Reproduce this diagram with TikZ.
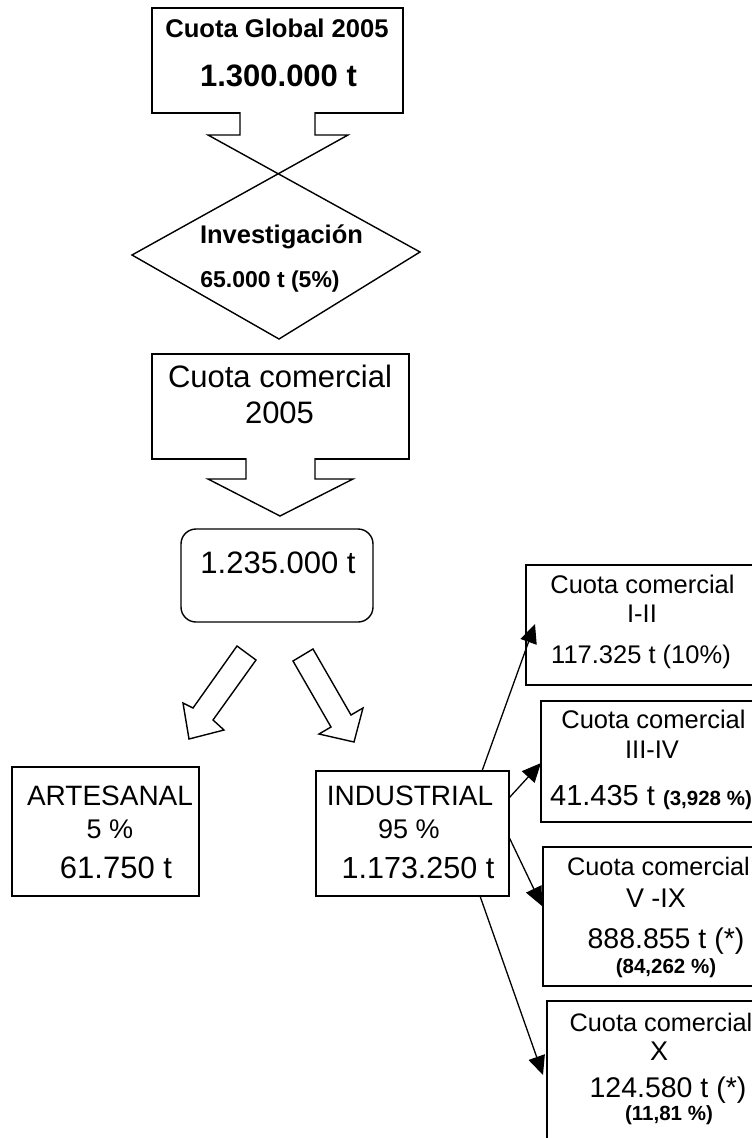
\documentclass[tikz,border=0pt]{standalone}
\usepackage{fontspec}
\setmainfont{Liberation Sans}
\usetikzlibrary{arrows.meta}
\newcommand\myfs[1]{\fontsize{#1}{#1}\selectfont}
\begin{document}
\begin{tikzpicture}[x=1pt,y=-1pt,line join=miter,
  shp/.style={draw=black,line width=1.4pt,fill=white},
  box/.style={draw=black,line width=1.4pt,fill=white,inner sep=0pt,outer sep=0pt,anchor=north west},
  txt/.style={inner sep=0pt,anchor=base,text=black},
  con/.style={draw=black,line width=1.3pt,-{Triangle[length=19pt,width=17pt]}}]
\useasboundingbox (0,0) rectangle (752,1138);
\clip (0,0) rectangle (752,1138);
\fill[white] (0,0) rectangle (752,1138);

% top box and arrow into diamond
\node[box,minimum width=251pt,minimum height=105pt] (glob) at (152,8) {};
\coordinate (dtop) at (278,174);
\coordinate (dright) at (420,252);
\coordinate (dbot) at (279,339);
\coordinate (dleft) at (132,255);
\draw[shp] (240,112.3) -- (240,135) -- (208,135) -- (dright) -- (dbot) -- (dleft) -- (348,135) -- (315,135) -- (315,112.3);
\fill[white] (240.7,111) rectangle (314.3,116);

% commercial quota box and arrow
\node[box,minimum width=257pt,minimum height=105pt] (com) at (152,354) {};
\draw[shp] (246,458.3) -- (246,479) -- (208,479) -- (280,516) -- (353,479) -- (315,479) -- (315,458.3);
\fill[white] (246.7,457) rectangle (314.3,462);

% total
\node[box,rounded corners=15pt,minimum width=192pt,minimum height=93pt] (tot) at (181,529) {};

% fat arrows
\draw[shp] (237,646) -- (256,660) -- (213,720) -- (224,730) -- (189,739) -- (183,703) -- (193,708) -- cycle;
\draw[shp] (293,661) -- (313,649) -- (351,715) -- (363,708) -- (354,742) -- (319,734) -- (331,727) -- cycle;

% sector boxes
\node[box,minimum width=187pt,minimum height=129pt] (art) at (12,767) {};
\node[box,minimum width=193pt,minimum height=125pt] (ind) at (316,771) {};

% right boxes
\node[box,minimum width=260pt,minimum height=120pt] (q1) at (526,565) {};
\node[box,minimum width=245pt,minimum height=121pt] (q2) at (541,701) {};
\node[box,minimum width=243pt,minimum height=139pt] (q3) at (543,847) {};
\node[box,minimum width=239pt,minimum height=170pt] (q4) at (547,1001) {};

% connectors
\coordinate (s1) at (482,771);
\coordinate (e1) at (535,624);
\coordinate (s2) at (509,798);
\coordinate (e2) at (541,763);
\coordinate (s3) at (509,837);
\coordinate (e3) at (542,906);
\coordinate (s4) at (480,896);
\coordinate (e4) at (543,1075);
\draw[con] (s1) -- (e1);
\draw[con] (s2) -- (e2);
\draw[con] (s3) -- (e3);
\draw[con] (s4) -- (e4);

% texts
\node[txt,font=\bfseries\myfs{25.6}] (g1) at (277,37) {Cuota Global 2005};
\node[txt,font=\bfseries\myfs{31}] (g2) at (278.5,86) {1.300.000 t};
\node[txt,font=\bfseries\myfs{25.5}] (v1) at (281.5,243) {Investigación};
\node[txt,font=\bfseries\myfs{23}] (v2) at (270,287) {65.000 t (5\%)};
\node[txt,font=\myfs{31}] (c1) at (280,387) {Cuota comercial};
\node[txt,font=\myfs{31}] (c2) at (279.5,423) {2005};
\node[txt,font=\myfs{31}] (tt) at (278,573) {1.235.000 t};

\node[txt,font=\myfs{28}] (a1) at (110,805) {ARTESANAL};
\node[txt,font=\myfs{27}] (a2) at (110,838) {5 \%};
\node[txt,font=\myfs{31}] (a3) at (116,878) {61.750 t};
\node[txt,font=\myfs{28}] (n1) at (410,805) {INDUSTRIAL};
\node[txt,font=\myfs{27}] (n2) at (409,838) {95 \%};
\node[txt,font=\myfs{30.5}] (n3) at (418,878) {1.173.250 t};

\node[txt,font=\myfs{25.5}] (q1a) at (642.5,593) {Cuota comercial};
\node[txt,font=\myfs{25.5}] (q1b) at (642,622) {I-II};
\node[txt,font=\myfs{25.5}] (q1c) at (641,663) {117.325 t (10\%)};

\node[txt,font=\myfs{25.5}] (q2a) at (653.5,728) {Cuota comercial};
\node[txt,font=\myfs{25.5}] (q2b) at (652,758) {III-IV};
\node[txt] (q2c) at (651,805) {\myfs{29}41.435 t {\bfseries\myfs{20.5}(3,928 \%)}};

\node[txt,font=\myfs{25.3}] (q3a) at (658.5,875) {Cuota comercial};
\node[txt,font=\myfs{27}] (q3b) at (656,907) {V -IX};
\node[txt,font=\myfs{28.5}] (q3c) at (666,948) {888.855 t (*)};
\node[txt,font=\bfseries\myfs{20.5}] (q3d) at (666,973) {(84,262 \%)};

\node[txt,font=\myfs{25.3}] (q4a) at (661,1031) {Cuota comercial};
\node[txt,font=\myfs{27}] (q4b) at (659,1060) {X};
\node[txt,font=\myfs{28.5}] (q4c) at (668,1097) {124.580 t (*)};
\node[txt,font=\bfseries\myfs{20.5}] (q4d) at (669,1120) {(11,81 \%)};
\end{tikzpicture}
\end{document}
